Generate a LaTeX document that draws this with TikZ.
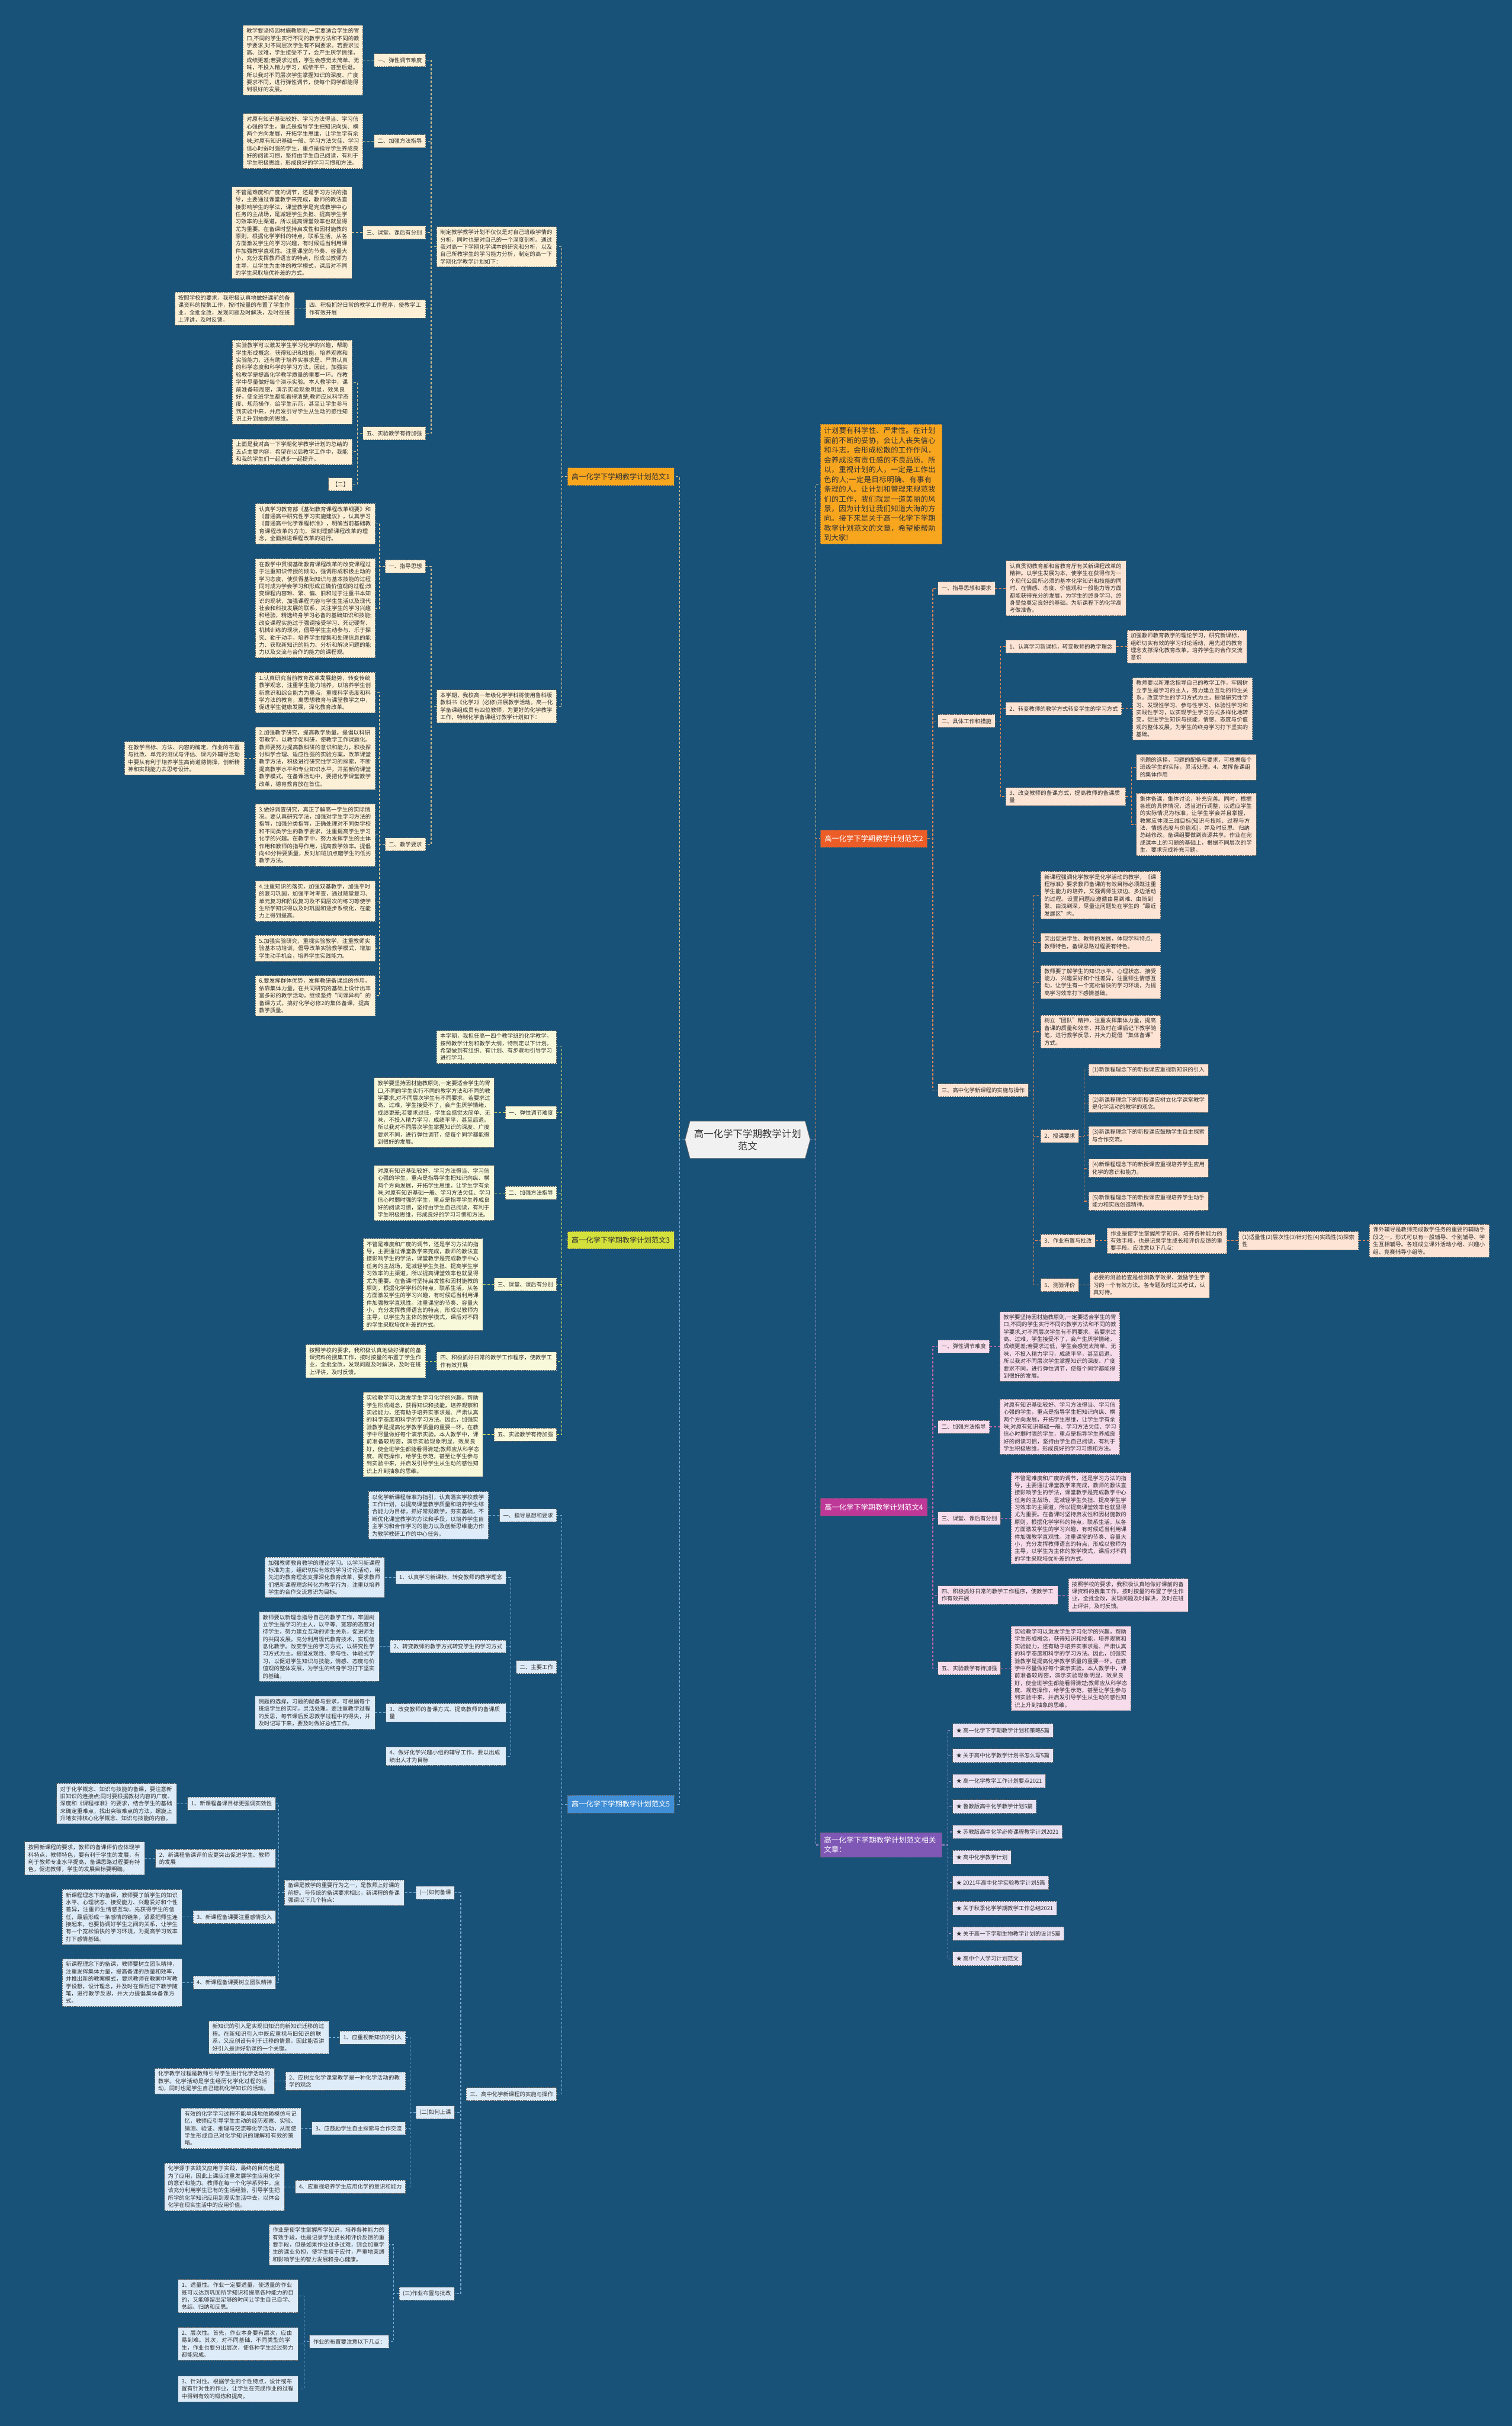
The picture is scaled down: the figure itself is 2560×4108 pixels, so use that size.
\documentclass[tikz,border=0pt]{standalone}
\usepackage{fontspec}
\newfontfamily\cjk{Noto Sans CJK SC}
\XeTeXlinebreaklocale "zh"
\XeTeXlinebreakskip=0pt plus 1pt
\usetikzlibrary{shapes.symbols}
\definecolor{bg}{RGB}{24,82,120}
\definecolor{tc}{RGB}{51,51,51}
\definecolor{bd}{RGB}{100,100,100}
\definecolor{f1}{RGB}{253,240,214}\definecolor{l1}{RGB}{214,190,140}\definecolor{c1}{RGB}{249,166,31}
\definecolor{f2}{RGB}{253,228,212}\definecolor{l2}{RGB}{232,132,80}\definecolor{c2}{RGB}{236,92,38}
\definecolor{f3}{RGB}{248,248,218}\definecolor{l3}{RGB}{205,215,90}\definecolor{c3}{RGB}{212,225,60}
\definecolor{f4}{RGB}{247,220,236}\definecolor{l4}{RGB}{200,100,170}\definecolor{c4}{RGB}{190,56,152}
\definecolor{f5}{RGB}{222,235,248}\definecolor{l5}{RGB}{120,170,220}\definecolor{c5}{RGB}{64,142,214}
\definecolor{f6}{RGB}{233,226,243}\definecolor{l6}{RGB}{160,140,200}\definecolor{c6}{RGB}{127,87,181}
\definecolor{cf}{RGB}{241,241,241}
\tikzset{
 bx/.style={font={\cjk\fontsize{9.4}{12.4}\selectfont}, text=tc, draw=bd, dash pattern=on 2.5pt off 1.5pt, line width=0.8pt, inner xsep=6pt, inner ysep=5pt},
 tb/.style={bx, text width=191pt, align=left},
 lb/.style={bx, minimum height=22pt},
 lbw/.style={tb},
 brn/.style={font={\cjk\fontsize{12.3}{15}\selectfont}, draw=bd, dash pattern=on 2.5pt off 1.5pt, line width=0.8pt, minimum height=30pt, inner xsep=7pt},
 k1/.style={fill=f1}, k2/.style={fill=f2}, k3/.style={fill=f3}, k4/.style={fill=f4}, k5/.style={fill=f5}, k6/.style={fill=f6},
 ln/.style={dash pattern=on 4pt off 3pt, line width=1.2pt},
 ln1/.style={ln, draw=l1}, ln2/.style={ln, draw=l2}, ln3/.style={ln, draw=l3},
 ln4/.style={ln, draw=l4}, ln5/.style={ln, draw=l5}, ln6/.style={ln, draw=l6},
}
\newcommand\Lk[3]{\draw[#1] (#2.west) -- ++(-9,0) |- (#3.east);}
\newcommand\Rk[3]{\draw[#1] (#2.east) -- ++(9,0) |- (#3.west);}
\begin{document}
\begin{tikzpicture}[x=1pt,y=-1pt]
\fill[bg] (0,0) rectangle (2560,4108);
\useasboundingbox (0,0) rectangle (2560,4108);

% center
\node[signal, signal to=east and west, signal pointer angle=150, fill=cf, draw=bd, line width=0.8pt, font={\cjk\fontsize{16.5}{21}\selectfont}, text=tc, align=center, minimum height=63pt, minimum width=212pt, inner xsep=4pt] (c) at (1266,1930) {高一化学下学期教学计划\\范文};

% ===== Branch 1 =====
\node[brn, fill=c1, text=tc, anchor=east] (B1) at (1142,807) {高一化学下学期教学计划范文1};
\node[tb,k1,anchor=east] (b1a) at (943,418) {制定教学教学计划不仅仅是对自己班级学情的分析，同时也是对自己的一个深度剖析。通过我对高一下学期化学课本的研究和分析，以及自己所教学生的学习能力分析，制定的高一下学期化学教学计划如下：};
\node[tb,k1,anchor=east] (b1b) at (943,1196) {本学期，我校高一年级化学学科将使用鲁科版教科书《化学2》(必修)开展教学活动。高一化学备课组成员有四位教师，为更好的化学教学工作，特制化学备课组订教学计划如下：};

\node[lb,k1,anchor=east] (a1) at (721,102) {一、弹性调节难度};
\node[tb,k1,anchor=east] (a1t) at ([xshift=-18pt]a1.west) {教学要坚持因材施教原则,一定要适合学生的胃口,不同的学生实行不同的教学方法和不同的教学要求,对不同层次学生有不同要求。若要求过高、过难，学生接受不了，会产生厌学情绪，成绩更差;若要求过低，学生会感觉太简单、无味，不投入精力学习，成绩平平，甚至后退。所以我对不同层次学生掌握知识的深度、广度要求不同，进行弹性调节，使每个同学都能得到很好的发展。};
\node[lb,k1,anchor=east] (a2) at (721,239) {二、加强方法指导};
\node[tb,k1,anchor=east] (a2t) at ([xshift=-18pt]a2.west) {对原有知识基础较好、学习方法得当、学习信心强的学生，重点是指导学生把知识向纵、横两个方向发展，开拓学生思维，让学生学有余味;对原有知识基础一般、学习方法欠佳、学习信心时弱时强的学生，重点是指导学生养成良好的阅读习惯，坚持由学生自己阅读，有利于学生积极思维，形成良好的学习习惯和方法。};
\node[lb,k1,anchor=east] (a3) at (721,394) {三、课堂、课后有分别};
\node[tb,k1,anchor=east] (a3t) at ([xshift=-18pt]a3.west) {不管是难度和广度的调节，还是学习方法的指导，主要通过课堂教学来完成，教师的教法直接影响学生的学法，课堂教学是完成教学中心任务的主战场，是减轻学生负担、提高学生学习效率的主渠道，所以提高课堂效率也就显得尤为重要。在备课时坚持启发性和因材施教的原则，根据化学学科的特点，联系生活，从各方面激发学生的学习兴趣，有时候适当利用课件加强教学直观性。注重课堂的节奏、容量大小，充分发挥教师语言的特点，形成以教师为主导，以学生为主体的教学模式，课后对不同的学生采取培优补差的方式。};
\node[lbw,k1,anchor=east] (a4) at (721,523) {四、积极抓好日常的教学工作程序，使教学工作有效开展};
\node[tb,k1,anchor=east] (a4t) at ([xshift=-18pt]a4.west) {按照学校的要求，我积极认真地做好课前的备课资料的搜集工作，按时按量的布置了学生作业，全批全改，发现问题及时解决，及时在班上评讲，及时反馈。};
\node[lb,k1,anchor=east] (a5) at (721,734) {五、实验教学有待加强};
\node[tb,k1,anchor=east] (a5t) at (597,647) {实验教学可以激发学生学习化学的兴趣，帮助学生形成概念，获得知识和技能，培养观察和实验能力，还有助于培养实事求是、严肃认真的科学态度和科学的学习方法。因此，加强实验教学是提高化学教学质量的重要一环。在教学中尽量做好每个演示实验。本人教学中，课前准备较周密，演示实验现象明显，效果良好，使全班学生都能看得清楚;教师应从科学态度、规范操作，给学生示范，甚至让学生参与到实验中来，并启发引导学生从生动的感性知识上升到抽象的思维。};
\node[tb,k1,anchor=east] (a5s) at (597,765) {上面是我对高一下学期化学教学计划的总结的五点主要内容，希望在以后教学工作中，我能和我的学生们一起进步一起提升。};
\node[lb,k1,anchor=east] (a5e) at (597,820) {【二】};

\node[lb,k1,anchor=east] (g1) at (721,959) {一、指导思想};
\node[tb,k1,anchor=east] (g1a) at (636,887) {认真学习教育部《基础教育课程改革纲要》和《普通高中研究性学习实施建议》，认真学习《普通高中化学课程标准》，明确当前基础教育课程改革的方向，深刻理解课程改革的理念，全面推进课程改革的进行。};
\node[tb,k1,anchor=east] (g1b) at (636,1030) {在教学中贯彻基础教育课程改革的改变课程过于注重知识传授的倾向，强调形成积极主动的学习态度，使获得基础知识与基本技能的过程同时成为学会学习和形成正确价值观的过程;改变课程内容难、繁、偏、旧和过于注重书本知识的现状，加强课程内容与学生生活以及现代社会和科技发展的联系，关注学生的学习兴趣和经验，精选终身学习必备的基础知识和技能;改变课程实施过于强调接受学习、死记硬背、机械训练的现状，倡导学生主动参与、乐于探究、勤于动手，培养学生搜集和处理信息的能力、获取新知识的能力、分析和解决问题的能力以及交流与合作的能力的课程观。};
\node[lb,k1,anchor=east] (g2) at (721,1430) {二、教学要求};
\node[tb,k1,anchor=east] (q1) at (636,1173) {1.认真研究当前教育改革发展趋势，转变传统教学观念，注重学生能力培养，以培养学生创新意识和综合能力为重点，重视科学态度和科学方法的教育，寓思想教育与课堂教学之中，促进学生健康发展，深化教育改革。};
\node[tb,k1,anchor=east] (q2) at (636,1284) {2.加强教学研究，提高教学质量。提倡以科研带教学，以教学促科研，使教学工作课题化。教师要努力提高教科研的意识和能力，积极探讨科学合理、适应性强的实验方案，改革课堂教学方法，积极进行研究性学习的探索，不断提高教学水平和专业知识水平，开拓新的课堂教学模式。在备课活动中，要把化学课堂教学改革，德育教育放在首位。};
\node[tb,k1,anchor=east] (q2a) at ([xshift=-18pt]q2.west) {在教学目标、方法、内容的确定、作业的布置与批改、单元的测试与评估、课内外辅导活动中要从有利于培养学生高尚道德情操，创新精神和实践能力去思考设计。};
\node[tb,k1,anchor=east] (q3) at (636,1414) {3.做好调查研究，真正了解高一学生的实际情况。要认真研究学法，加强对学生学习方法的指导，加强分类指导，正确处理对不同类学校和不同类学生的教学要求，注重提高学生学习化学的兴趣。在教学中，努力发挥学生的主体作用和教师的指导作用，提高教学效率。提倡向40分钟要质量，反对加班加点磨学生的低劣教学方法。};
\node[tb,k1,anchor=east] (q4) at (636,1526) {4.注重知识的落实，加强双基教学，加强平时的复习巩固，加强平时考查，通过随堂复习、单元复习和阶段复习及不同层次的练习等使学生所学知识得以及时巩固和逐步系统化，在能力上得到提高。};
\node[tb,k1,anchor=east] (q5) at (636,1606) {5.加强实验研究，重视实验教学，注重教师实验基本功培训，倡导改革实验教学模式，增加学生动手机会，培养学生实践能力。};
\node[tb,k1,anchor=east] (q6) at (636,1686) {6.要发挥群体优势，发挥教研备课组的作用，依靠集体力量，在共同研究的基础上设计出丰富多彩的教学活动。继续坚持“同课异构”的备课方式，搞好化学必修2的集体备课，提高教学质量。};

\Lk{ln1}{c}{B1}
\Lk{ln1}{B1}{b1a}\Lk{ln1}{B1}{b1b}
\Lk{ln1}{b1a}{a1}\Lk{ln1}{b1a}{a2}\Lk{ln1}{b1a}{a3}\Lk{ln1}{b1a}{a4}\Lk{ln1}{b1a}{a5}
\Lk{ln1}{a1}{a1t}\Lk{ln1}{a2}{a2t}\Lk{ln1}{a3}{a3t}\Lk{ln1}{a4}{a4t}
\Lk{ln1}{a5}{a5t}\Lk{ln1}{a5}{a5s}\Lk{ln1}{a5}{a5e}
\Lk{ln1}{b1b}{g1}\Lk{ln1}{b1b}{g2}
\Lk{ln1}{g1}{g1a}\Lk{ln1}{g1}{g1b}
\Lk{ln1}{g2}{q1}\Lk{ln1}{g2}{q2}\Lk{ln1}{g2}{q3}\Lk{ln1}{g2}{q4}\Lk{ln1}{g2}{q5}\Lk{ln1}{g2}{q6}
\Lk{ln1}{q2}{q2a}

% ===== Branch 3 =====
\node[brn, fill=c3, text=tc, anchor=east] (B3) at (1142,2100) {高一化学下学期教学计划范文3};
\node[tb,k3,anchor=east] (d0) at (943,1773) {本学期，我担任高一四个教学班的化学教学，按照教学计划和教学大纲，特制定以下计划。希望做到有组织、有计划、有步骤地引导学习进行学习。};
\node[lb,k3,anchor=east] (d1) at (943,1884) {一、弹性调节难度};
\node[tb,k3,anchor=east] (d1t) at ([xshift=-18pt]d1.west) {教学要坚持因材施教原则,一定要适合学生的胃口,不同的学生实行不同的教学方法和不同的教学要求,对不同层次学生有不同要求。若要求过高、过难，学生接受不了，会产生厌学情绪，成绩更差;若要求过低，学生会感觉太简单、无味，不投入精力学习，成绩平平，甚至后退。所以我对不同层次学生掌握知识的深度、广度要求不同，进行弹性调节，使每个同学都能得到很好的发展。};
\node[lb,k3,anchor=east] (d2) at (943,2020) {二、加强方法指导};
\node[tb,k3,anchor=east] (d2t) at ([xshift=-18pt]d2.west) {对原有知识基础较好、学习方法得当、学习信心强的学生，重点是指导学生把知识向纵、横两个方向发展，开拓学生思维，让学生学有余味;对原有知识基础一般、学习方法欠佳、学习信心时弱时强的学生，重点是指导学生养成良好的阅读习惯，坚持由学生自己阅读，有利于学生积极思维，形成良好的学习习惯和方法。};
\node[lb,k3,anchor=east] (d3) at (943,2175) {三、课堂、课后有分别};
\node[tb,k3,anchor=east] (d3t) at ([xshift=-18pt]d3.west) {不管是难度和广度的调节，还是学习方法的指导，主要通过课堂教学来完成，教师的教法直接影响学生的学法，课堂教学是完成教学中心任务的主战场，是减轻学生负担、提高学生学习效率的主渠道，所以提高课堂效率也就显得尤为重要。在备课时坚持启发性和因材施教的原则，根据化学学科的特点，联系生活，从各方面激发学生的学习兴趣，有时候适当利用课件加强教学直观性。注重课堂的节奏、容量大小，充分发挥教师语言的特点，形成以教师为主导，以学生为主体的教学模式，课后对不同的学生采取培优补差的方式。};
\node[lbw,k3,anchor=east] (d4) at (943,2305) {四、积极抓好日常的教学工作程序，使教学工作有效开展};
\node[tb,k3,anchor=east] (d4t) at ([xshift=-18pt]d4.west) {按照学校的要求，我积极认真地做好课前的备课资料的搜集工作，按时按量的布置了学生作业，全批全改，发现问题及时解决，及时在班上评讲，及时反馈。};
\node[lb,k3,anchor=east] (d5) at (943,2429) {五、实验教学有待加强};
\node[tb,k3,anchor=east] (d5t) at ([xshift=-18pt]d5.west) {实验教学可以激发学生学习化学的兴趣，帮助学生形成概念，获得知识和技能，培养观察和实验能力，还有助于培养实事求是、严肃认真的科学态度和科学的学习方法。因此，加强实验教学是提高化学教学质量的重要一环。在教学中尽量做好每个演示实验。本人教学中，课前准备较周密，演示实验现象明显，效果良好，使全班学生都能看得清楚;教师应从科学态度、规范操作，给学生示范，甚至让学生参与到实验中来，并启发引导学生从生动的感性知识上升到抽象的思维。};
\Lk{ln3}{c}{B3}
\Lk{ln3}{B3}{d0}\Lk{ln3}{B3}{d1}\Lk{ln3}{B3}{d2}\Lk{ln3}{B3}{d3}\Lk{ln3}{B3}{d4}\Lk{ln3}{B3}{d5}
\Lk{ln3}{d1}{d1t}\Lk{ln3}{d2}{d2t}\Lk{ln3}{d3}{d3t}\Lk{ln3}{d4}{d4t}\Lk{ln3}{d5}{d5t}

% ===== Branch 5 =====
\node[brn, fill=c5, text=white, anchor=east] (B5) at (1142,3055) {高一化学下学期教学计划范文5};
\node[lb,k5,anchor=east] (e1) at (943,2566) {一、指导思想和要求};
\node[tb,k5,anchor=east] (e1t) at ([xshift=-18pt]e1.west) {以化学新课程标准为指引，认真落实学校教学工作计划，以提高课堂教学质量和培养学生综合能力为目标，抓好常规教学，夯实基础，不断优化课堂教学的方法和手段，以培养学生自主学习和合作学习的能力以及创新思维能力作为教学教研工作的中心任务。};
\node[lb,k5,anchor=east] (e2) at (943,2823) {二、主要工作};
\node[lb,k5,anchor=east] (e21) at (857,2671) {1、认真学习新课标，转变教师的教学理念};
\node[tb,k5,anchor=east] (e21t) at ([xshift=-18pt]e21.west) {加强教师教育教学的理论学习。以学习新课程标准为主，组织切实有效的学习讨论活动，用先进的教育理念支撑深化教育改革，要求教师们把新课程理念转化为教学行为，注重以培养学生的合作交流意识为目标。};
\node[lb,k5,anchor=east] (e22) at (857,2788) {2、转变教师的教学方式转变学生的学习方式};
\node[tb,k5,anchor=east] (e22t) at ([xshift=-18pt]e22.west) {教师要以新理念指导自己的教学工作，牢固树立学生是学习的主人，以平等、宽容的态度对待学生，努力建立互动的师生关系，促进师生的共同发展。充分利用现代教育技术，实现信息化教学。改变学生的学习方式，以研究性学习方式为主，提倡发现性、参与性、体验式学习，以促进学生知识与技能，情感、态度与价值观的整体发展，为学生的终身学习打下坚实的基础。};
\node[lbw,k5,anchor=east] (e23) at (857,2900) {3、改变教师的备课方式、提高教师的备课质量};
\node[tb,k5,anchor=east] (e23t) at ([xshift=-18pt]e23.west) {例题的选择，习题的配备与要求，可根据每个班级学生的实际，灵活处理。要注重教学过程的反思，每节课后反思教学过程中的得失，并及时记写下来，要及时做好总结工作。};
\node[lbw,k5,anchor=east] (e24) at (857,2974) {4、做好化学兴趣小组的辅导工作，要以出成绩出人才为目标};
\node[lb,k5,anchor=east] (e3) at (943,3546) {三、高中化学新课程的实施与操作};
\node[lb,k5,anchor=east] (p1) at (770,3205) {(一)如何备课};
\node[tb,k5,anchor=east] (p1t) at ([xshift=-19pt]p1.west) {备课是教学的重要行为之一，是教师上好课的前提。与传统的备课要求相比，新课程的备课强调以下几个特点：};
\node[lb,k5,anchor=east] (m1) at (467,3054) {1、新课程备课目标更强调实效性};
\node[tb,k5,anchor=east] (m1t) at ([xshift=-18pt]m1.west) {对于化学概念、知识与技能的备课，要注意新旧知识的连接点;同时要根据教材内容的广度、深度和《课程标准》的要求，结合学生的基础来确定重难点，找出突破难点的方法，螺旋上升地安排核心化学概念、知识与技能的内容。};
\node[lbw,k5,anchor=east] (m2) at (467,3147) {2、新课程备课评价应更突出促进学生、教师的发展};
\node[tb,k5,anchor=east] (m2t) at ([xshift=-18pt]m2.west) {按照新课程的要求，教师的备课评价应体现学科特点，教师特色，要有利于学生的发展，有利于教师专业水平提高，备课思路过程要有特色，促进教师，学生的发展目标要明确。};
\node[lb,k5,anchor=east] (m3) at (467,3246) {3、新课程备课要注重感情投入};
\node[tb,k5,anchor=east] (m3t) at ([xshift=-18pt]m3.west) {新课程理念下的备课，教师要了解学生的知识水平、心理状态、接受能力、兴趣爱好和个性差异，注重师生情感互动，先获得学生的信任，最后形成一条感情的链条，紧紧把师生连接起来，也要协调好学生之间的关系，让学生有一个宽松愉快的学习环境，为提高学习效率打下感情基础。};
\node[lb,k5,anchor=east] (m4) at (467,3357) {4、新课程备课要树立团队精神};
\node[tb,k5,anchor=east] (m4t) at ([xshift=-18pt]m4.west) {新课程理念下的备课，教师要树立团队精神，注重发挥集体力量，提高备课的质量和效率，并推出新的教案模式，要求教师在教案中写教学设想，设计理念，并及时在课后记下教学随笔，进行教学反思，并大力提倡集体备课方式。};
\node[lb,k5,anchor=east] (p2) at (770,3577) {(二)如何上课};
\node[lb,k5,anchor=east] (s1) at (687,3450) {1、应重视新知识的引入};
\node[tb,k5,anchor=east] (s1t) at ([xshift=-18pt]s1.west) {新知识的引入是实现旧知识向新知识迁移的过程。在新知识引入中既应重视与旧知识的联系，又应创设有利于迁移的情景，因此能否讲好引入是讲好新课的一个关键。};
\node[lbw,k5,anchor=east] (s2) at (687,3524) {2、应树立化学课堂教学是一种化学活动的教学的观念};
\node[tb,k5,anchor=east] (s2t) at ([xshift=-18pt]s2.west) {化学教学过程是教师引导学生进行化学活动的教学。化学活动是学生经历化学化过程的活动，同时也是学生自己建构化学知识的活动。};
\node[lb,k5,anchor=east] (s3) at (687,3604) {3、应鼓励学生自主探索与合作交流};
\node[tb,k5,anchor=east] (s3t) at ([xshift=-18pt]s3.west) {有效的化学学习过程不能单纯地依赖模仿与记忆，教师应引导学生主动的经历观察、实验、猜测、验证、推理与交流等化学活动，从而使学生形成自己对化学知识的理解和有效的策略。};
\node[lb,k5,anchor=east] (s4) at (687,3703) {4、应重视培养学生应用化学的意识和能力};
\node[tb,k5,anchor=east] (s4t) at ([xshift=-18pt]s4.west) {化学源于实践又应用于实践，最终的目的也是为了应用，因此上课应注重发展学生应用化学的意识和能力。教师在每一个化学系列中，应该充分利用学生已有的生活经验，引导学生把所学的化学知识应用到现实生活中去，以体会化学在现实生活中的应用价值。};
\node[lb,k5,anchor=east] (p3) at (770,3884) {(三)作业布置与批改};
\node[tb,k5,anchor=east] (h1) at (659,3801) {作业是使学生掌握所学知识，培养各种能力的有效手段，也是记录学生成长和评价反馈的重要手段，但是如果作业过多过难，则会加重学生的课业负担，使学生疲于应付，严重地束缚和影响学生的智力发展和身心健康。};
\node[lb,k5,anchor=east] (h2) at (659,3965) {作业的布置要注意以下几点：};
\node[tb,k5,anchor=east] (h21) at (505,3888) {1、适量性。作业一定要适量，使适量的作业既可以达到巩固所学知识和提高各种能力的目的，又能够留出足够的时间让学生自己自学、总结、归纳和反思。};
\node[tb,k5,anchor=east] (h22) at (505,3969) {2、层次性。首先，作业本身要有层次，应由易到难。其次，对不同基础、不同类型的学生，作业也要分出层次，使各种学生经过努力都能完成。};
\node[tb,k5,anchor=east] (h23) at (505,4045) {3、针对性。根据学生的个性特点，设计或布置有针对性的作业，让学生在完成作业的过程中得到有效的锻炼和提高。};
\Lk{ln5}{c}{B5}
\Lk{ln5}{B5}{e1}\Lk{ln5}{B5}{e2}\Lk{ln5}{B5}{e3}
\Lk{ln5}{e1}{e1t}
\Lk{ln5}{e2}{e21}\Lk{ln5}{e2}{e22}\Lk{ln5}{e2}{e23}\Lk{ln5}{e2}{e24}
\Lk{ln5}{e21}{e21t}\Lk{ln5}{e22}{e22t}\Lk{ln5}{e23}{e23t}
\Lk{ln5}{e3}{p1}\Lk{ln5}{e3}{p2}\Lk{ln5}{e3}{p3}
\Lk{ln5}{p1}{p1t}
\Lk{ln5}{p1t}{m1}\Lk{ln5}{p1t}{m2}\Lk{ln5}{p1t}{m3}\Lk{ln5}{p1t}{m4}
\Lk{ln5}{m1}{m1t}\Lk{ln5}{m2}{m2t}\Lk{ln5}{m3}{m3t}\Lk{ln5}{m4}{m4t}
\Lk{ln5}{p2}{s1}\Lk{ln5}{p2}{s2}\Lk{ln5}{p2}{s3}\Lk{ln5}{p2}{s4}
\Lk{ln5}{s1}{s1t}\Lk{ln5}{s2}{s2t}\Lk{ln5}{s3}{s3t}\Lk{ln5}{s4}{s4t}
\Lk{ln5}{p3}{h1}\Lk{ln5}{p3}{h2}
\Lk{ln5}{h2}{h21}\Lk{ln5}{h2}{h22}\Lk{ln5}{h2}{h23}

% ===== Right: intro =====
\node[bx, fill=c1, text=tc, font={\cjk\fontsize{12.4}{16.5}\selectfont}, text width=194pt, align=left, anchor=west] (R0) at (1389,820) {计划要有科学性、严肃性。在计划面前不断的妥协，会让人丧失信心和斗志，会形成松散的工作作风，会养成没有责任感的不良品质。所以，重视计划的人，一定是工作出色的人;一定是目标明确、有事有条理的人。让计划和管理来规范我们的工作，我们就是一道美丽的风景，因为计划让我们知道大海的方向。接下来是关于高一化学下学期教学计划范文的文章，希望能帮助到大家!};
\Rk{ln1}{c}{R0}

% ===== Branch 2 =====
\node[brn, fill=c2, text=white, anchor=west] (B2) at (1389,1420) {高一化学下学期教学计划范文2};
\node[lb,k2,anchor=west] (r1) at (1588,996) {一、指导思想和要求};
\node[tb,k2,anchor=west] (r1t) at ([xshift=18pt]r1.east) {认真贯彻教育部和省教育厅有关新课程改革的精神。以学生发展为本，使学生在获得作为一个现代公民所必须的基本化学知识和技能的同时，在情感、态度、价值观和一般能力等方面都能获得充分的发展，为学生的终身学习、终身受益奠定良好的基础。为新课程下的化学高考做准备。};
\node[lb,k2,anchor=west] (r2) at (1588,1221) {二、具体工作和措施};
\node[lb,k2,anchor=west] (r21) at (1703,1095) {1、认真学习新课标，转变教师的教学理念};
\node[tb,k2,anchor=west] (r21t) at ([xshift=18pt]r21.east) {加强教师教育教学的理论学习，研究新课标，组织切实有效的学习讨论活动，用先进的教育理念支撑深化教育改革，培养学生的合作交流意识};
\node[lb,k2,anchor=west] (r22) at (1703,1200) {2、转变教师的教学方式转变学生的学习方式};
\node[tb,k2,anchor=west] (r22t) at ([xshift=18pt]r22.east) {教师要以新理念指导自己的教学工作，牢固树立学生是学习的主人，努力建立互动的师生关系。改变学生的学习方式为主，提倡研究性学习、发现性学习、参与性学习、体验性学习和实践性学习，以实现学生学习方式多样化地转变，促进学生知识与技能，情感、态度与价值观的整体发展，为学生的终身学习打下坚实的基础。};
\node[lbw,k2,anchor=west] (r23) at (1703,1349) {3、改变教师的备课方式，提高教师的备课质量};
\node[tb,k2,anchor=west] (r23a) at (1924,1299) {例题的选择，习题的配备与要求，可根据每个班级学生的实际，灵活处理。4、发挥备课组的集体作用};
\node[tb,k2,anchor=west] (r23b) at (1924,1396) {集体备课，集体讨论，补充完善。同时，根据各班的具体情况，适当进行调整，以适应学生的实际情况为标准，让学生学会并且掌握，教案应体现三维目标(知识与技能、过程与方法、情感态度与价值观)，并及时反思、归纳总结修改。备课组要做到资源共享。作业在完成课本上的习题的基础上，根据不同层次的学生，要求完成补充习题。};
\node[lb,k2,anchor=west] (r3) at (1588,1846) {三、高中化学新课程的实施与操作};
\node[tb,k2,anchor=west] (r31) at (1762,1516) {新课程强调化学教学是化学活动的教学，《课程标准》要求教师备课的有效目标必须既注重学生能力的培养，又强调师生双边、多边活动的过程。设置问题应遵循由易到难、由简到繁、由浅到深，尽量让问题处在学生的“最近发展区”内。};
\node[tb,k2,anchor=west] (r32) at (1762,1596) {突出促进学生、教师的发展，体现学科特点、教师特色，备课思路过程要有特色。};
\node[tb,k2,anchor=west] (r33) at (1762,1663) {教师要了解学生的知识水平、心理状态、接受能力、兴趣爱好和个性差异，注重师生情感互动，让学生有一个宽松愉快的学习环境，为提高学习效率打下感情基础。};
\node[tb,k2,anchor=west] (r34) at (1762,1747) {树立“团队”精神，注重发挥集体力量，提高备课的质量和效率，并及时在课后记下教学随笔，进行教学反思，并大力提倡“集体备课”方式。};
\node[lb,k2,anchor=west] (r35) at (1762,1924) {2、授课要求};
\node[tb,k2,anchor=west] (u1) at (1843,1812) {(1)新课程理念下的新授课应重视新知识的引入};
\node[tb,k2,anchor=west] (u2) at (1843,1868) {(2)新课程理念下的新授课应树立化学课堂教学是化学活动的教学的观念。};
\node[tb,k2,anchor=west] (u3) at (1843,1923) {(3)新课程理念下的新授课应鼓励学生自主探索与合作交流。};
\node[tb,k2,anchor=west] (u4) at (1843,1978) {(4)新课程理念下的新授课应重视培养学生应用化学的意识和能力。};
\node[tb,k2,anchor=west] (u5) at (1843,2034) {(5)新课程理念下的新授课应重视培养学生动手能力和实践创造精神。};
\node[lb,k2,anchor=west] (r36) at (1762,2101) {3、作业布置与批改};
\node[tb,k2,anchor=west] (v1) at ([xshift=19pt]r36.east) {作业是使学生掌握所学知识、培养各种能力的有效手段，也是记录学生成长和评价反馈的重要手段。应注意以下几点：};
\node[tb,k2,anchor=west] (v2) at ([xshift=19pt]v1.east) {(1)适量性(2)层次性(3)针对性(4)实践性(5)探索性};
\node[tb,k2,anchor=west] (v3) at ([xshift=18pt]v2.east) {课外辅导是教师完成教学任务的重要的辅助手段之一，形式可以有一般辅导、个别辅导、学生互相辅导。各班成立课外活动小组、兴趣小组、竞赛辅导小组等。};
\node[lb,k2,anchor=west] (r37) at (1762,2176) {5、测验评价};
\node[tb,k2,anchor=west] (r37t) at ([xshift=18pt]r37.east) {必要的测验检查是检测教学效果、激励学生学习的一个有效方法。各专题及时过关考试，认真对待。};
\Rk{ln2}{c}{B2}
\Rk{ln2}{B2}{r1}\Rk{ln2}{B2}{r2}\Rk{ln2}{B2}{r3}
\Rk{ln2}{r1}{r1t}
\Rk{ln2}{r2}{r21}\Rk{ln2}{r2}{r22}\Rk{ln2}{r2}{r23}
\Rk{ln2}{r21}{r21t}\Rk{ln2}{r22}{r22t}
\Rk{ln2}{r23}{r23a}\Rk{ln2}{r23}{r23b}
\Rk{ln2}{r3}{r31}\Rk{ln2}{r3}{r32}\Rk{ln2}{r3}{r33}\Rk{ln2}{r3}{r34}
\Rk{ln2}{r3}{r35}\Rk{ln2}{r3}{r36}\Rk{ln2}{r3}{r37}
\Rk{ln2}{r35}{u1}\Rk{ln2}{r35}{u2}\Rk{ln2}{r35}{u3}\Rk{ln2}{r35}{u4}\Rk{ln2}{r35}{u5}
\Rk{ln2}{r36}{v1}\Rk{ln2}{v1}{v2}\Rk{ln2}{v2}{v3}
\Rk{ln2}{r37}{r37t}

% ===== Branch 4 =====
\node[brn, fill=c4, text=white, anchor=west] (B4) at (1389,2552) {高一化学下学期教学计划范文4};
\node[lb,k4,anchor=west] (w1) at (1588,2280) {一、弹性调节难度};
\node[tb,k4,anchor=west] (w1t) at ([xshift=17pt]w1.east) {教学要坚持因材施教原则,一定要适合学生的胃口,不同的学生实行不同的教学方法和不同的教学要求,对不同层次学生有不同要求。若要求过高、过难，学生接受不了，会产生厌学情绪，成绩更差;若要求过低，学生会感觉太简单、无味，不投入精力学习，成绩平平，甚至后退。所以我对不同层次学生掌握知识的深度、广度要求不同，进行弹性调节，使每个同学都能得到很好的发展。};
\node[lb,k4,anchor=west] (w2) at (1588,2416) {二、加强方法指导};
\node[tb,k4,anchor=west] (w2t) at ([xshift=17pt]w2.east) {对原有知识基础较好、学习方法得当、学习信心强的学生，重点是指导学生把知识向纵、横两个方向发展，开拓学生思维，让学生学有余味;对原有知识基础一般、学习方法欠佳、学习信心时弱时强的学生，重点是指导学生养成良好的阅读习惯，坚持由学生自己阅读，有利于学生积极思维，形成良好的学习习惯和方法。};
\node[lb,k4,anchor=west] (w3) at (1588,2571) {三、课堂、课后有分别};
\node[tb,k4,anchor=west] (w3t) at ([xshift=17pt]w3.east) {不管是难度和广度的调节，还是学习方法的指导，主要通过课堂教学来完成，教师的教法直接影响学生的学法，课堂教学是完成教学中心任务的主战场，是减轻学生负担、提高学生学习效率的主渠道，所以提高课堂效率也就显得尤为重要。在备课时坚持启发性和因材施教的原则，根据化学学科的特点，联系生活，从各方面激发学生的学习兴趣，有时候适当利用课件加强教学直观性。注重课堂的节奏、容量大小，充分发挥教师语言的特点，形成以教师为主导，以学生为主体的教学模式，课后对不同的学生采取培优补差的方式。};
\node[lbw,k4,anchor=west] (w4) at (1588,2701) {四、积极抓好日常的教学工作程序，使教学工作有效开展};
\node[tb,k4,anchor=west] (w4t) at ([xshift=17pt]w4.east) {按照学校的要求，我积极认真地做好课前的备课资料的搜集工作，按时按量的布置了学生作业，全批全改，发现问题及时解决，及时在班上评讲，及时反馈。};
\node[lb,k4,anchor=west] (w5) at (1588,2825) {五、实验教学有待加强};
\node[tb,k4,anchor=west] (w5t) at ([xshift=17pt]w5.east) {实验教学可以激发学生学习化学的兴趣，帮助学生形成概念，获得知识和技能，培养观察和实验能力，还有助于培养实事求是、严肃认真的科学态度和科学的学习方法。因此，加强实验教学是提高化学教学质量的重要一环。在教学中尽量做好每个演示实验。本人教学中，课前准备较周密，演示实验现象明显，效果良好，使全班学生都能看得清楚;教师应从科学态度、规范操作，给学生示范，甚至让学生参与到实验中来，并启发引导学生从生动的感性知识上升到抽象的思维。};
\Rk{ln4}{c}{B4}
\Rk{ln4}{B4}{w1}\Rk{ln4}{B4}{w2}\Rk{ln4}{B4}{w3}\Rk{ln4}{B4}{w4}\Rk{ln4}{B4}{w5}
\Rk{ln4}{w1}{w1t}\Rk{ln4}{w2}{w2t}\Rk{ln4}{w3}{w3t}\Rk{ln4}{w4}{w4t}\Rk{ln4}{w5}{w5t}

% ===== Related articles =====
\node[bx, fill=c6, text=white, font={\cjk\fontsize{12.5}{16}\selectfont}, text width=194pt, align=left, inner ysep=7pt, anchor=west] (B6) at (1389,3124) {高一化学下学期教学计划范文相关文章：};
\node[lb,k6,anchor=west,minimum height=23pt] (x1) at (1613,2930) {★ 高一化学下学期教学计划和策略5篇};
\node[lb,k6,anchor=west,minimum height=23pt] (x2) at (1613,2973) {★ 关于高中化学教学计划书怎么写5篇};
\node[lb,k6,anchor=west,minimum height=23pt] (x3) at (1613,3016) {★ 高一化学教学工作计划要点2021};
\node[lb,k6,anchor=west,minimum height=23pt] (x4) at (1613,3059) {★ 鲁教版高中化学教学计划5篇};
\node[lb,k6,anchor=west,minimum height=23pt] (x5) at (1613,3102) {★ 苏教版高中化学必修课程教学计划2021};
\node[lb,k6,anchor=west,minimum height=23pt] (x6) at (1613,3145) {★ 高中化学教学计划};
\node[lb,k6,anchor=west,minimum height=23pt] (x7) at (1613,3188) {★ 2021年高中化学实验教学计划5篇};
\node[lb,k6,anchor=west,minimum height=23pt] (x8) at (1613,3231) {★ 关于秋季化学学期教学工作总结2021};
\node[lb,k6,anchor=west,minimum height=23pt] (x9) at (1613,3274) {★ 关于高一下学期生物教学计划的设计5篇};
\node[lb,k6,anchor=west,minimum height=23pt] (x10) at (1613,3317) {★ 高中个人学习计划范文};
\Rk{ln6}{c}{B6}
\foreach \i in {1,...,10}{\Rk{ln6}{B6}{x\i}}
\end{tikzpicture}
\end{document}
